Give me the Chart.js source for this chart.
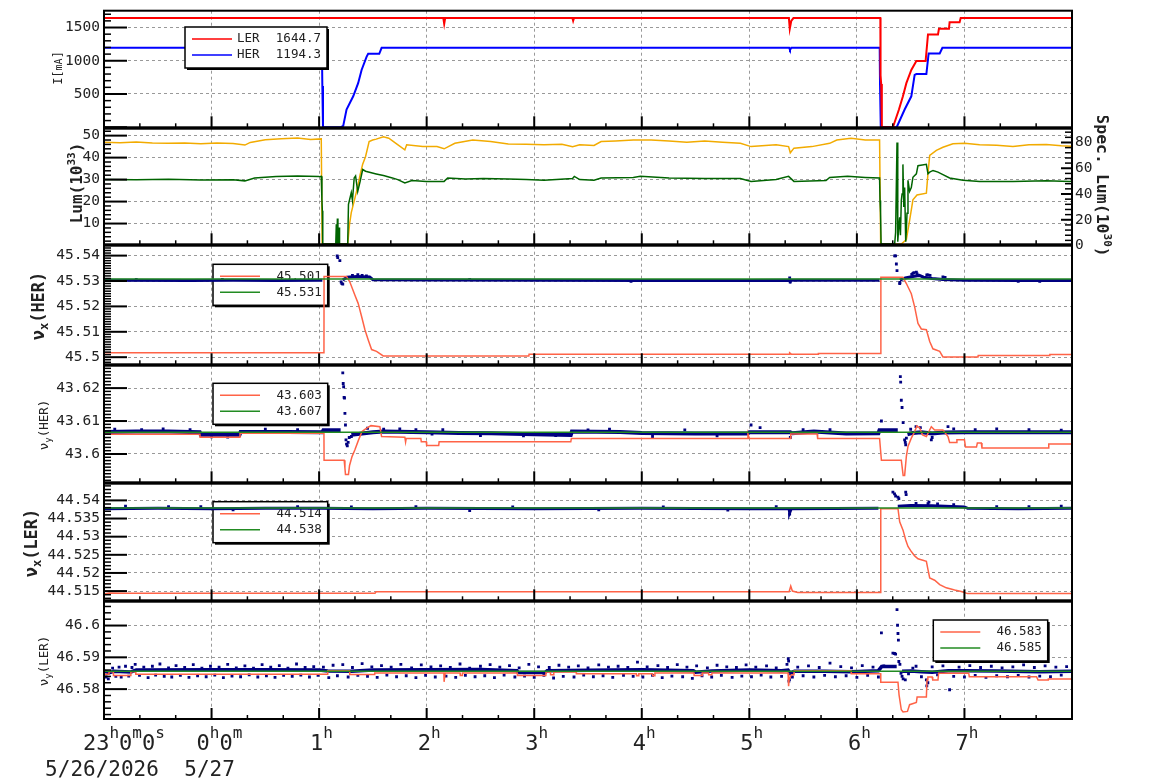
<!DOCTYPE html>
<html>
<head>
<meta charset="utf-8">
<script src="https://cdn.jsdelivr.net/npm/chart.js@4.4.1/dist/chart.umd.min.js"></script>
<style>
  body { margin: 0; background: #fff; width: 1154px; height: 782px; overflow: hidden; position: relative; }
  canvas { position: absolute; left: 0; }
</style>
</head>
<body>
<canvas id="p0"></canvas>
<canvas id="p1"></canvas>
<canvas id="p2"></canvas>
<canvas id="p3"></canvas>
<canvas id="p4"></canvas>
<canvas id="p5"></canvas>
<script>
// time axis: hours after 23:00 on 5/26
var HOURS = [0, 1, 2, 3, 4, 5, 6, 7, 8, 9];
var HOUR_LABELS = [['23', 'h', '0', 'm', '0', 's'], ['0', 'h', '0', 'm'], ['1', 'h'], ['2', 'h'], ['3', 'h'], ['4', 'h'], ['5', 'h'], ['6', 'h'], ['7', 'h']];
var DATE_LABELS = ['5/26/2026', '5/27'];

var I_TICKS = [500, 1000, 1500];
var I_LABELS = ['500', '1000', '1500'];
var LUM_TICKS = [10, 20, 30, 40, 50];
var LUM_LABELS = ['10', '20', '30', '40', '50'];
var SPEC_TICKS = [0, 20, 40, 60, 80];
var SPEC_LABELS = ['0', '20', '40', '60', '80'];
var NUX_HER_TICKS = [45.5, 45.51, 45.52, 45.53, 45.54];
var NUX_HER_LABELS = ['45.5', '45.51', '45.52', '45.53', '45.54'];
var NUY_HER_TICKS = [43.6, 43.61, 43.62];
var NUY_HER_LABELS = ['43.6', '43.61', '43.62'];
var NUX_LER_TICKS = [44.515, 44.52, 44.525, 44.53, 44.535, 44.54];
var NUX_LER_LABELS = ['44.515', '44.52', '44.525', '44.53', '44.535', '44.54'];
var NUY_LER_TICKS = [46.58, 46.59, 46.6];
var NUY_LER_LABELS = ['46.58', '46.59', '46.6'];

// beam currents [mA]
var LER_CURRENT = [[0,1642],[3.155,1642],[3.163,1555],[3.172,1642],[4.355,1642],[4.362,1600],[4.37,1642],[6.368,1642],[6.376,1480],[6.39,1600],[6.41,1642],[7.218,1642],[7.22,780],[7.226,650],[7.232,0],[7.335,0],[7.391,267],[7.428,465],[7.46,663],[7.506,861],[7.553,995],[7.639,995],[7.661,1396],[7.754,1396],[7.763,1480],[7.856,1480],[7.862,1580],[7.955,1580],[7.965,1642],[9,1642]];
var HER_CURRENT = [[0,1194],[2.026,1194],[2.03,620],[2.036,0],[2.203,0],[2.224,20],[2.255,267],[2.317,465],[2.363,663],[2.395,861],[2.441,1059],[2.456,1105],[2.559,1105],[2.57,1150],[2.581,1194],[6.37,1194],[6.378,1165],[6.39,1194],[7.212,1194],[7.215,650],[7.222,0],[7.37,0],[7.444,267],[7.506,465],[7.537,787],[7.553,800],[7.646,800],[7.667,1109],[7.77,1109],[7.795,1194],[9,1194]];
var LEGEND_CURRENT = [['LER', '1644.7'], ['HER', '1194.3']];

// luminosity [1e33] and specific luminosity [1e30]
var LUMINOSITY = [[0,47.0],[0.15,46.8],[0.3,47.1],[0.45,46.6],[0.6,46.5],[0.75,46.7],[0.9,46.3],[1.05,46.6],[1.2,46.4],[1.31,45.7],[1.36,46.9],[1.5,48.1],[1.65,48.6],[1.8,48.9],[1.92,48.2],[2.02,48.5],[2.028,0.7],[2.266,0.7],[2.283,9.7],[2.299,15],[2.326,20.2],[2.36,27],[2.382,32.3],[2.405,37],[2.432,40.5],[2.465,47.3],[2.498,48],[2.531,48.4],[2.598,49.5],[2.648,48.8],[2.714,46.5],[2.797,43.5],[2.814,45.8],[2.963,45],[3.096,45],[3.162,44],[3.262,46.5],[3.428,48],[3.594,47.3],[3.759,46.2],[3.925,46.1],[4.091,45.8],[4.257,46.1],[4.357,45],[4.423,45.8],[4.556,45.5],[4.622,47.3],[4.755,47.6],[4.921,48],[5.087,48],[5.253,47.6],[5.419,47],[5.585,47.6],[5.751,47],[5.917,46.5],[6.016,45],[6.249,45.8],[6.365,45],[6.381,42.2],[6.415,44.3],[6.581,45],[6.747,46.5],[6.813,48],[6.946,48.8],[7.078,48],[7.211,48],[7.221,0.7],[7.413,0.7],[7.46,2.7],[7.491,11.7],[7.521,20.8],[7.559,23],[7.646,23.8],[7.661,32.8],[7.677,41],[7.739,43.3],[7.8,44.7],[7.893,46.3],[8.002,46.5],[8.141,45.9],[8.3,45.6],[8.451,45.1],[8.6,45.8],[8.761,46],[8.9,45.4],[9,45.2]];
var SPEC_LUM = [[0,51.3],[0.3,51.0],[0.6,51.4],[0.9,50.8],[1.2,51.0],[1.31,50.2],[1.4,52.5],[1.6,53.5],[1.8,54],[2.0,53.5],[2.02,53.7],[2.026,36],[2.03,27],[2.034,1.2],[2.155,1.2],[2.16,16.5],[2.165,1.2],[2.17,21],[2.175,1.2],[2.185,14],[2.19,1.2],[2.266,1.2],[2.273,32],[2.299,41],[2.31,35],[2.326,52.5],[2.339,54],[2.359,42],[2.382,50],[2.405,59],[2.432,57.7],[2.531,55.6],[2.598,54.3],[2.681,52.5],[2.731,51.2],[2.797,48.6],[2.863,50.4],[2.996,49.8],[3.162,49.8],[3.195,52.4],[3.361,51.7],[3.527,52],[3.759,51.7],[3.925,51.2],[4.091,50.7],[4.357,52],[4.373,53.7],[4.423,51.2],[4.556,50.7],[4.622,52.4],[4.921,52.9],[4.987,53.7],[5.253,52.4],[5.585,52],[5.917,52],[6.016,49.8],[6.249,51.2],[6.365,53.7],[6.415,49.8],[6.713,50.4],[6.747,52.9],[6.913,53.7],[7.078,52.9],[7.211,52.4],[7.215,35],[7.22,25.6],[7.225,1.2],[7.351,1.2],[7.36,10],[7.373,80],[7.378,20],[7.382,3],[7.39,15],[7.398,22],[7.405,8],[7.413,35],[7.42,40],[7.428,63],[7.436,30],[7.444,45],[7.454,3],[7.46,12],[7.466,25],[7.475,50.6],[7.49,42],[7.506,45],[7.521,53],[7.553,55.7],[7.568,62],[7.646,63],[7.661,55.7],[7.677,57],[7.708,58.3],[7.754,57],[7.8,55],[7.862,52.4],[7.986,50.6],[8.141,49.8],[8.451,49.8],[8.761,50.3],[8.978,49.8],[9,50]];

// HER horizontal tune
var HER_NUX_SET = [[0,45.5017],[2.045,45.5017],[2.046,45.5318],[2.255,45.5318],[2.286,45.5296],[2.333,45.5244],[2.363,45.5212],[2.395,45.516],[2.426,45.5108],[2.456,45.5069],[2.488,45.503],[2.534,45.5023],[2.596,45.5005],[3.95,45.5005],[3.952,45.5012],[6.37,45.5012],[6.375,45.5017],[6.39,45.5012],[6.64,45.5012],[6.642,45.5015],[7.221,45.5015],[7.223,45.5315],[7.428,45.5315],[7.46,45.529],[7.506,45.525],[7.537,45.5198],[7.568,45.5133],[7.599,45.5111],[7.646,45.5108],[7.677,45.5062],[7.707,45.5033],[7.77,45.5023],[7.8,45.5001],[8.126,45.5001],[8.128,45.5007],[8.792,45.5007],[8.794,45.5011],[9,45.5011]];
var HER_NUX_REF = [[0,45.5308],[9,45.5308]];
var HER_NUX_MEAS = [[0,45.5303],[0.8,45.5302],[1.2,45.5303],[1.6,45.5302],[2.03,45.5303],[2.04,null],[2.22,45.5304],[2.26,45.5315],[2.35,45.5318],[2.47,45.5316],[2.5,45.5305],[3.0,45.5304],[4.0,45.5303],[5.0,45.5302],[6.0,45.5302],[6.37,45.5303],[6.38,45.5298],[6.39,45.5303],[7.21,45.5303],[7.22,null],[7.4,45.5303],[7.45,45.5312],[7.52,45.5318],[7.58,45.5322],[7.62,45.5315],[7.7,45.531],[7.8,45.5306],[8.0,45.5303],[8.5,45.5302],[9,45.5302]];
var HER_NUX_DOTS = [[2.168,45.5399],[2.173,45.5392],[2.193,45.538],[2.205,45.5296],[2.212,45.529],[2.22,45.5288],[2.31,45.5322],[2.36,45.5325],[2.4,45.5322],[2.44,45.532],[0.3,45.5306],[1.1,45.5306],[3.4,45.5306],[4.9,45.5299],[6.375,45.5312],[6.38,45.5296],[7.351,45.5399],[7.36,45.5399],[7.367,45.5367],[7.373,45.5341],[7.398,45.529],[7.4,45.5294],[7.51,45.5326],[7.521,45.533],[7.53,45.5333],[7.553,45.5335],[7.56,45.5328],[7.65,45.5324],[7.661,45.5324],[7.68,45.5322],[7.8,45.5316],[7.82,45.5314],[8.5,45.5299],[8.7,45.5299]];
var LEGEND_NUX_HER = ['45.501', '45.531'];

// HER vertical tune
var HER_NUY_SET = [[0,43.606],[0.892,43.606],[0.893,43.6051],[1.264,43.6051],[1.265,43.6063],[2.045,43.6063],[2.046,43.5981],[2.233,43.5981],[2.24,43.5957],[2.245,43.5938],[2.273,43.5938],[2.283,43.5965],[2.306,43.5992],[2.332,43.6012],[2.366,43.6042],[2.399,43.6068],[2.432,43.6076],[2.482,43.6086],[2.565,43.6083],[2.581,43.6053],[2.797,43.6051],[2.804,43.6036],[2.81,43.6047],[2.946,43.6047],[2.95,43.6037],[2.996,43.6037],[3.0,43.6026],[3.112,43.6026],[3.116,43.6037],[4.34,43.6037],[4.345,43.6047],[5.983,43.6047],[5.987,43.6061],[6.0,43.6047],[6.381,43.6047],[6.385,43.6061],[6.63,43.6061],[6.635,43.6047],[7.211,43.6047],[7.228,43.5981],[7.413,43.5981],[7.43,43.5935],[7.444,43.5935],[7.46,43.5993],[7.475,43.6023],[7.506,43.6048],[7.537,43.6068],[7.558,43.6085],[7.584,43.6079],[7.61,43.6058],[7.646,43.6053],[7.692,43.6083],[7.723,43.6073],[7.8,43.6073],[7.847,43.6053],[7.862,43.6035],[7.924,43.6035],[7.93,43.6043],[8.0,43.6043],[8.01,43.6021],[8.112,43.6021],[8.12,43.6033],[8.157,43.6033],[8.163,43.6018],[8.777,43.6018],[8.784,43.603],[9,43.603]];
var HER_NUY_REF = [[0,43.6066],[9,43.6066]];
var HER_NUY_MEAS = [[0,43.6067],[0.3,43.6068],[0.6,43.6068],[0.89,43.6066],[0.9,43.6058],[1.26,43.6058],[1.27,43.6067],[1.7,43.6067],[2.03,43.6066],[2.04,43.6072],[2.2,43.6072],[2.21,null],[2.3,43.6058],[2.4,43.6062],[2.5,43.6066],[2.6,43.6068],[3.0,43.6066],[3.3,43.6064],[3.6,43.6063],[4.0,43.606],[4.34,43.6058],[4.35,43.6068],[4.8,43.6067],[5.0,43.6064],[5.5,43.6062],[5.98,43.6062],[6.0,43.6066],[6.38,43.6066],[6.4,43.6063],[6.6,43.6068],[6.9,43.6062],[7.2,43.6063],[7.21,43.6072],[7.38,43.6072],[7.39,null],[7.47,43.606],[7.52,43.6064],[7.6,43.6066],[7.7,43.6062],[7.8,43.6065],[8.0,43.6066],[8.5,43.6066],[9,43.6066]];
var HER_NUY_DOTS = [[0.1,43.6075],[0.35,43.6074],[0.55,43.6076],[0.8,43.6074],[1.0,43.6052],[1.15,43.6051],[1.5,43.6075],[1.8,43.6074],[2.038,43.6103],[2.22,43.6246],[2.224,43.6214],[2.228,43.6204],[2.232,43.6172],[2.236,43.617],[2.24,43.6123],[2.245,43.6088],[2.25,43.6043],[2.255,43.603],[2.262,43.6025],[2.27,43.6035],[2.28,43.605],[2.3,43.6053],[2.33,43.606],[2.45,43.6078],[2.6,43.6075],[2.75,43.6076],[2.9,43.6074],[3.05,43.606],[3.15,43.6074],[3.5,43.6056],[3.9,43.6055],[4.2,43.6056],[4.5,43.6073],[4.7,43.6075],[5.1,43.6053],[5.4,43.6073],[5.7,43.6055],[6.016,43.6088],[6.1,43.608],[6.381,43.605],[6.5,43.6074],[6.75,43.6074],[7.228,43.61],[7.404,43.6235],[7.407,43.6218],[7.413,43.6163],[7.42,43.6141],[7.43,43.6095],[7.444,43.6043],[7.45,43.6035],[7.454,43.6028],[7.46,43.6048],[7.5,43.6075],[7.55,43.6083],[7.59,43.608],[7.692,43.6043],[7.7,43.605],[7.847,43.6083],[7.9,43.6076],[8.1,43.6074],[8.3,43.6076],[8.6,43.6074],[8.9,43.6072]];
var LEGEND_NUY_HER = ['43.603', '43.607'];

// LER horizontal tune
var LER_NUX_SET = [[0,44.5142],[0.05,44.5145],[0.2,44.5144],[2.52,44.5144],[2.53,44.5148],[6.37,44.5148],[6.385,44.5164],[6.4,44.515],[6.45,44.5146],[7.221,44.5146],[7.222,44.5377],[7.382,44.5377],[7.398,44.5341],[7.429,44.5318],[7.454,44.5291],[7.475,44.5273],[7.506,44.5259],[7.537,44.5247],[7.568,44.5239],[7.646,44.5232],[7.661,44.5209],[7.677,44.5186],[7.723,44.518],[7.77,44.5168],[7.831,44.5159],[7.909,44.5153],[7.97,44.5149],[8.03,44.5143],[9,44.5143]];
var LER_NUX_REF = [[0,44.5379],[9,44.5379]];
var LER_NUX_MEAS = [[0,44.5377],[0.5,44.5378],[1.0,44.5377],[1.5,44.5378],[2.0,44.5378],[2.5,44.5377],[3.0,44.5378],[4.0,44.5377],[5.0,44.5378],[6.0,44.5377],[6.37,44.5377],[6.375,44.5366],[6.39,44.5377],[7.2,44.5378],[7.22,null],[7.38,44.5384],[7.5,44.5386],[7.7,44.5385],[8.0,44.5382],[8.03,44.5378],[8.5,44.5377],[9,44.5378]];
var LER_NUX_DOTS = [[0.2,44.5384],[0.6,44.5383],[0.9,44.5383],[1.2,44.5374],[1.8,44.5383],[2.3,44.5382],[2.9,44.5383],[3.4,44.5372],[3.8,44.5382],[4.6,44.5374],[5.2,44.5382],[5.8,44.5373],[6.25,44.5383],[6.375,44.5362],[7.335,44.5423],[7.35,44.5418],[7.36,44.5412],[7.382,44.5409],[7.39,44.5405],[7.454,44.5423],[7.458,44.5416],[7.55,44.5392],[7.661,44.5391],[7.67,44.5395],[7.75,44.539],[7.9,44.5388],[8.3,44.5383],[8.6,44.5383],[8.9,44.5384]];
var LEGEND_NUX_LER = ['44.514', '44.538'];

// LER vertical tune
var LER_NUY_SET = [[0,46.5847],[0.046,46.5847],[0.047,46.5855],[0.087,46.5855],[0.088,46.5843],[0.248,46.5843],[0.25,46.5855],[0.294,46.5855],[0.296,46.5847],[2.075,46.5847],[2.08,46.5858],[2.283,46.5858],[2.285,46.5846],[2.515,46.5846],[2.517,46.5851],[3.16,46.5851],[3.162,46.5823],[3.17,46.5823],[3.172,46.5851],[3.31,46.5851],[3.312,46.5843],[3.33,46.5843],[3.332,46.5851],[3.842,46.5851],[3.844,46.5843],[4.108,46.5843],[4.11,46.5854],[4.15,46.5854],[4.152,46.5845],[4.18,46.5845],[4.182,46.5854],[4.39,46.5854],[4.392,46.5848],[4.95,46.5848],[4.952,46.5842],[4.97,46.5842],[4.972,46.5848],[5.1,46.5848],[5.102,46.5842],[5.12,46.5842],[5.122,46.5851],[5.485,46.5851],[5.487,46.5843],[5.56,46.5843],[5.562,46.5851],[5.62,46.5851],[5.622,46.5845],[5.651,46.5845],[5.653,46.5851],[6.36,46.5851],[6.365,46.5809],[6.37,46.583],[6.39,46.5845],[6.415,46.5845],[6.417,46.5858],[6.946,46.5858],[6.948,46.5848],[7.221,46.5848],[7.222,46.5822],[7.382,46.5822],[7.392,46.5782],[7.413,46.5735],[7.429,46.5728],[7.47,46.573],[7.49,46.5751],[7.553,46.5758],[7.56,46.5775],[7.646,46.5775],[7.652,46.5829],[7.66,46.5838],[7.7,46.5838],[7.705,46.5829],[7.754,46.5829],[7.76,46.585],[8.04,46.585],[8.045,46.5839],[8.67,46.5839],[8.684,46.5829],[8.777,46.5829],[8.78,46.5832],[9,46.5832]];
var LER_NUY_REF = [[0,46.5856],[9,46.5856]];
var LER_NUY_MEAS = [[0,46.5856],[0.05,46.5852],[0.09,46.5856],[0.25,46.5854],[0.3,46.586],[1.0,46.5861],[1.5,46.5861],[2.0,46.586],[2.08,46.5857],[2.3,46.5856],[2.5,46.586],[3.0,46.5861],[3.5,46.5862],[3.84,46.5858],[3.85,46.5852],[4.1,46.5852],[4.12,46.5858],[4.5,46.5859],[5.0,46.5861],[5.48,46.5858],[5.5,46.5853],[5.65,46.5857],[6.0,46.586],[6.3,46.5858],[6.36,46.586],[6.38,46.585],[6.42,46.5856],[6.7,46.5856],[6.95,46.5855],[7.2,46.5858],[7.23,46.5871],[7.37,46.5871],[7.39,null],[7.42,46.5856],[7.5,46.5857],[7.6,46.5855],[7.7,46.5853],[7.85,46.5858],[8.0,46.5858],[8.3,46.5857],[8.7,46.5855],[9,46.5856]];
var LER_NUY_DOTS = [[0.02,46.5838],[0.04,46.5832],[0.08,46.5866],[0.11,46.584],[0.14,46.5869],[0.16,46.5838],[0.2,46.5872],[0.23,46.5841],[0.26,46.5868],[0.29,46.5878],[0.33,46.5843],[0.37,46.5869],[0.41,46.5836],[0.45,46.5872],[0.48,46.5844],[0.52,46.5879],[0.56,46.584],[0.6,46.5867],[0.63,46.5838],[0.67,46.5874],[0.71,46.5843],[0.75,46.5868],[0.79,46.5837],[0.83,46.5877],[0.87,46.5842],[0.91,46.5866],[0.95,46.5839],[0.99,46.5872],[1.03,46.5844],[1.07,46.5869],[1.11,46.5836],[1.15,46.5878],[1.19,46.5841],[1.23,46.5867],[1.27,46.5839],[1.31,46.5873],[1.35,46.5845],[1.39,46.5866],[1.43,46.5838],[1.47,46.5877],[1.51,46.5842],[1.55,46.5869],[1.59,46.5837],[1.63,46.5874],[1.67,46.5843],[1.71,46.5866],[1.75,46.584],[1.79,46.5879],[1.83,46.5844],[1.87,46.5868],[1.91,46.5838],[1.95,46.5871],[1.99,46.5843],[2.04,46.5869],[2.09,46.5836],[2.13,46.5875],[2.17,46.5842],[2.22,46.5877],[2.27,46.5838],[2.31,46.5868],[2.36,46.5843],[2.4,46.588],[2.45,46.584],[2.49,46.587],[2.54,46.5837],[2.58,46.5874],[2.63,46.5844],[2.67,46.5869],[2.72,46.5839],[2.76,46.5878],[2.81,46.5842],[2.86,46.5867],[2.9,46.5836],[2.95,46.5876],[2.99,46.5843],[3.04,46.587],[3.08,46.5838],[3.13,46.5873],[3.18,46.5841],[3.22,46.5868],[3.27,46.5837],[3.31,46.5879],[3.36,46.5843],[3.4,46.5866],[3.45,46.5839],[3.5,46.5872],[3.54,46.5842],[3.59,46.5877],[3.63,46.5836],[3.68,46.5869],[3.72,46.5844],[3.77,46.5874],[3.82,46.5838],[3.86,46.5867],[3.91,46.5841],[3.95,46.5878],[4.0,46.5837],[4.04,46.587],[4.09,46.5843],[4.14,46.5868],[4.18,46.5835],[4.23,46.5875],[4.27,46.584],[4.32,46.5869],[4.37,46.5838],[4.41,46.5873],[4.46,46.5844],[4.5,46.5867],[4.55,46.5839],[4.6,46.5876],[4.64,46.5842],[4.69,46.5869],[4.73,46.5837],[4.78,46.5872],[4.83,46.5843],[4.87,46.5868],[4.92,46.584],[4.96,46.5885],[5.01,46.5838],[5.05,46.587],[5.1,46.5843],[5.15,46.5874],[5.19,46.5836],[5.24,46.5868],[5.28,46.5841],[5.33,46.5877],[5.38,46.5839],[5.42,46.5869],[5.47,46.5834],[5.51,46.5873],[5.56,46.5842],[5.61,46.5867],[5.65,46.5838],[5.7,46.5875],[5.74,46.5843],[5.79,46.587],[5.84,46.5837],[5.88,46.5868],[5.93,46.5841],[5.97,46.5876],[6.02,46.5839],[6.06,46.5869],[6.11,46.5844],[6.16,46.5873],[6.2,46.5838],[6.25,46.5867],[6.3,46.584],[6.35,46.5878],[6.362,46.5896],[6.365,46.5888],[6.368,46.5825],[6.372,46.583],[6.4,46.5838],[6.45,46.5869],[6.5,46.5842],[6.55,46.5873],[6.6,46.5838],[6.65,46.5868],[6.7,46.5843],[6.75,46.5882],[6.8,46.5839],[6.85,46.5871],[6.9,46.5842],[6.95,46.5867],[7.0,46.5837],[7.05,46.5874],[7.1,46.5843],[7.15,46.5869],[7.2,46.5838],[7.228,46.5977],[7.25,46.5873],[7.3,46.5871],[7.335,46.5913],[7.35,46.5912],[7.36,46.591],[7.373,46.605],[7.378,46.6001],[7.382,46.5975],[7.386,46.5954],[7.39,46.5887],[7.4,46.5878],[7.41,46.585],[7.42,46.584],[7.43,46.5832],[7.45,46.5829],[7.48,46.5848],[7.52,46.5866],[7.55,46.5872],[7.6,46.5839],[7.646,46.5829],[7.65,46.581],[7.66,46.582],[7.7,46.587],[7.75,46.5845],[7.8,46.5873],[7.862,46.5798],[7.9,46.584],[7.95,46.5869],[8.0,46.5838],[8.05,46.5874],[8.1,46.5843],[8.15,46.5868],[8.2,46.5837],[8.25,46.5872],[8.3,46.5842],[8.35,46.5867],[8.4,46.5839],[8.45,46.587],[8.5,46.5843],[8.55,46.5876],[8.6,46.5838],[8.65,46.5868],[8.7,46.5841],[8.75,46.5873],[8.8,46.5839],[8.85,46.5869],[8.9,46.5844],[8.95,46.5871]];
var LEGEND_NUY_LER = ['46.583', '46.585'];

var MONO = "'DejaVu Sans Mono', monospace";
var INK = '#222';
var PANEL_TOP = [10, 128, 245, 365, 483, 601];
var PANEL_BOTTOM = [128, 245, 365, 483, 601, 719];
var PAD = 12;

Chart.defaults.font.family = MONO;

function pts(a) {
    return a.map(function (p) { return { x: p[0], y: p[1] }; });
}

function line(data, color, width, order, axis) {
    return { data: pts(data), borderColor: color, borderWidth: width, pointRadius: 0,
             yAxisID: axis || 'y', order: order, spanGaps: false };
}

function dots(data) {
    return { data: pts(data), showLine: false, pointStyle: 'rect', pointRadius: 2,
             pointBackgroundColor: '#000080', pointBorderWidth: 0, order: 5 };
}

function yScale(min, max, ticks, labels, pos) {
    return {
        type: 'linear', position: pos || 'left', min: min, max: max, bounds: 'data',
        afterBuildTicks: function (s) { s.ticks = ticks.map(function (v) { return { value: v }; }); },
        afterFit: function (s) { s.width = pos === 'right' ? 82 : 104; },
        ticks: { callback: function (v, i) { return labels[i]; }, color: INK, autoSkip: false,
                 font: { family: MONO, size: 14.5 }, padding: pos === 'right' ? 3 : 4 },
        grid: { color: '#999', lineWidth: 1, drawTicks: false, drawOnChartArea: pos !== 'right' },
        border: { display: false, dash: [3, 3] }
    };
}

function xScale(h) {
    return {
        type: 'linear', min: 0, max: 9, bounds: 'data',
        afterBuildTicks: function (s) { s.ticks = HOURS.map(function (v) { return { value: v }; }); },
        afterFit: function (s) { s.height = h; },
        ticks: { display: false },
        grid: { color: '#999', lineWidth: 1, drawTicks: false },
        border: { display: false, dash: [3, 3] }
    };
}

// text with sub/superscripts: parts are [text, size, bold, dy]
function richText(ctx, parts, x, y, rot, centered) {
    ctx.save();
    ctx.translate(x, y);
    ctx.rotate(rot);
    var widths = [], total = 0;
    parts.forEach(function (p) {
        ctx.font = (p[2] ? 'bold ' : '') + p[1] + 'px ' + MONO;
        var w = ctx.measureText(p[0]).width;
        widths.push(w);
        total += w;
    });
    var cx = centered ? -total / 2 : 0;
    var base = centered ? parts[0][1] * 0.36 : 0;
    ctx.fillStyle = INK;
    ctx.textAlign = 'left';
    ctx.textBaseline = 'alphabetic';
    parts.forEach(function (p, i) {
        ctx.font = (p[2] ? 'bold ' : '') + p[1] + 'px ' + MONO;
        ctx.fillText(p[0], cx, base + p[3]);
        cx += widths[i];
    });
    ctx.restore();
}

function drawLegend(ctx, L, off) {
    var y0 = L.y - off;
    ctx.save();
    ctx.fillStyle = '#000';
    ctx.fillRect(L.x + 2, y0 + 2, L.w, 41);
    ctx.fillStyle = '#fff';
    ctx.fillRect(L.x, y0, L.w, 41);
    ctx.strokeStyle = '#000';
    ctx.lineWidth = 1.5;
    ctx.strokeRect(L.x, y0, L.w, 41);
    ctx.font = '12.5px ' + MONO;
    ctx.textBaseline = 'middle';
    L.rows.forEach(function (r, i) {
        var ry = y0 + (i ? 28 : 12);
        ctx.strokeStyle = r[0];
        ctx.lineWidth = 1.5;
        ctx.beginPath();
        ctx.moveTo(L.x + 7, ry);
        ctx.lineTo(L.x + 47, ry);
        ctx.stroke();
        ctx.fillStyle = INK;
        if (r[1]) { ctx.textAlign = 'left'; ctx.fillText(r[1], L.x + 52, ry); }
        ctx.textAlign = 'right';
        ctx.fillText(r[2], L.x + L.w - 6, ry);
    });
    ctx.restore();
}

function inTicks(ctx, scale, x0, dir, minor, major, lenMaj, lenMin) {
    var n0 = Math.ceil(scale.min / minor - 1e-6), n1 = Math.floor(scale.max / minor + 1e-6);
    for (var n = n0; n <= n1; n++) {
        var v = n * minor;
        var q = v / major;
        var isMaj = Math.abs(q - Math.round(q)) < 1e-4;
        var y = scale.getPixelForValue(v);
        ctx.lineWidth = isMaj ? 2 : 1.5;
        ctx.beginPath();
        ctx.moveTo(x0, y);
        ctx.lineTo(x0 + dir * (isMaj ? lenMaj : lenMin), y);
        ctx.stroke();
    }
}

var framePlugin = {
    id: 'frame',
    beforeDatasetsDraw: function (chart) {
        var o = chart.options.plugins.frame;
        if (o.legend && !o.legend.over) drawLegend(chart.ctx, o.legend, o.offset);
    },
    afterDatasetsDraw: function (chart) {
        var o = chart.options.plugins.frame;
        if (o.legend && o.legend.over) drawLegend(chart.ctx, o.legend, o.offset);
    },
    afterDraw: function (chart) {
        var o = chart.options.plugins.frame, ctx = chart.ctx, a = chart.chartArea;
        ctx.save();
        ctx.strokeStyle = '#000';
        inTicks(ctx, chart.scales.y, a.left, 1, o.minor, o.major, 23, 7);
        if (chart.scales.y2) inTicks(ctx, chart.scales.y2, a.right, -1, 4, 20, 11, 7);
        var xs = chart.scales.x;
        for (var n = 1; n < 27; n++) {
            var px = xs.getPixelForValue(n / 3), maj = n % 3 === 0;
            ctx.lineWidth = maj ? 2 : 1.5;
            ctx.beginPath();
            ctx.moveTo(px, a.bottom);
            ctx.lineTo(px, a.bottom - (maj ? 11 : 4));
            ctx.stroke();
        }
        ctx.lineWidth = 2;
        ctx.strokeRect(a.left, a.top, a.right - a.left, a.bottom - a.top);
        ctx.restore();
        (o.titles || []).forEach(function (t) {
            richText(ctx, t.parts, t.x, t.y - o.offset, t.rot, true);
        });
        if (o.timeLabels) {
            var shift = [-21, -15, -9, -9, -9, -9, -9, -9, -9];
            HOUR_LABELS.forEach(function (lab, i) {
                var parts = lab.map(function (s, k) { return k % 2 ? [s, 16, 0, -12] : [s, 22, 0, 0]; });
                richText(ctx, parts, xs.getPixelForValue(HOURS[i]) + shift[i], 750 - o.offset, 0, false);
            });
            ctx.save();
            ctx.fillStyle = INK;
            ctx.font = '21px ' + MONO;
            ctx.textAlign = 'center';
            ctx.textBaseline = 'alphabetic';
            DATE_LABELS.forEach(function (d, i) {
                ctx.fillText(d, xs.getPixelForValue(HOURS[i]) - 2, 776 - o.offset);
            });
            ctx.restore();
        }
    }
};

function makePanel(i, datasets, scales, frame, hasRight) {
    var top = PANEL_TOP[i] - PAD;
    var last = i === 5;
    var h = last ? 782 - top : PANEL_BOTTOM[i] - PANEL_TOP[i] + 2 * PAD;
    var cv = document.getElementById('p' + i);
    cv.width = 1154;
    cv.height = h;
    cv.style.top = top + 'px';
    scales.x = xScale(last ? 63 : 0);
    frame.offset = top;
    return new Chart(cv, {
        type: 'line',
        data: { datasets: datasets },
        options: {
            responsive: false,
            animation: false,
            events: [],
            layout: { padding: { top: PAD, bottom: last ? 0 : PAD, left: 0, right: hasRight ? 0 : 82 } },
            scales: scales,
            plugins: { legend: { display: false }, tooltip: { enabled: false }, frame: frame }
        },
        plugins: [framePlugin]
    });
}

var RED = '#ff0000', BLUE = '#0000ff', TOMATO = '#ff6347', GREEN = '#228b22';

// 1: beam currents
makePanel(0,
    [line(HER_CURRENT, BLUE, 2, 2), line(LER_CURRENT, RED, 2, 1)],
    { y: yScale(-1, 1753, I_TICKS, I_LABELS) },
    { minor: 100, major: 500,
      legend: { x: 185, y: 27, w: 142, over: true,
                rows: [[RED, LEGEND_CURRENT[0][0], LEGEND_CURRENT[0][1]], [BLUE, LEGEND_CURRENT[1][0], LEGEND_CURRENT[1][1]]] },
      titles: [{ x: 57.5, y: 68, rot: -Math.PI / 2, parts: [['I[', 12, 0, 0], ['mA', 10, 0, 0], [']', 12, 0, 0]] }] },
    false);

// 2: luminosity
makePanel(1,
    [line(LUMINOSITY, '#f2ab00', 1.5, 2), line(SPEC_LUM, '#006400', 1.5, 1, 'y2')],
    { y: yScale(0.56, 53.15, LUM_TICKS, LUM_LABELS),
      y2: yScale(0.96, 90.7, SPEC_TICKS, SPEC_LABELS, 'right') },
    { minor: 2, major: 10,
      titles: [{ x: 76, y: 183, rot: -Math.PI / 2, parts: [['Lum(10', 16, 1, 0], ['33', 11, 1, -7], [')', 16, 1, 0]] },
               { x: 1103, y: 185.5, rot: Math.PI / 2, parts: [['Spec. Lum(10', 16.5, 1, 0], ['30', 11, 1, -7], [')', 16.5, 1, 0]] }] },
    true);

// 3: HER horizontal tune
makePanel(2,
    [dots(HER_NUX_DOTS), line(HER_NUX_MEAS, '#000080', 3, 4), line(HER_NUX_SET, TOMATO, 1.5, 2), line(HER_NUX_REF, GREEN, 1.5, 1)],
    { y: yScale(45.4972, 45.5439, NUX_HER_TICKS, NUX_HER_LABELS) },
    { minor: 0.001, major: 0.01,
      legend: { x: 213, y: 264.3, w: 114.7, over: false, rows: [[TOMATO, '', LEGEND_NUX_HER[0]], [GREEN, '', LEGEND_NUX_HER[1]]] },
      titles: [{ x: 38, y: 306, rot: -Math.PI / 2, parts: [['ν', 17, 1, 0], ['x', 12, 1, 4], ['(HER)', 17, 1, 0]] }] },
    false);

// 4: HER vertical tune
makePanel(3,
    [dots(HER_NUY_DOTS), line(HER_NUY_MEAS, '#000080', 4, 4), line(HER_NUY_SET, TOMATO, 1.5, 2), line(HER_NUY_REF, GREEN, 1.5, 1)],
    { y: yScale(43.5914, 43.6268, NUY_HER_TICKS, NUY_HER_LABELS) },
    { minor: 0.001, major: 0.01,
      legend: { x: 213, y: 383.3, w: 114.7, over: true, rows: [[TOMATO, '', LEGEND_NUY_HER[0]], [GREEN, '', LEGEND_NUY_HER[1]]] },
      titles: [{ x: 43, y: 425, rot: -Math.PI / 2, parts: [['ν', 12.5, 0, 0], ['y', 9, 0, 3], ['(HER)', 12.5, 0, 0]] }] },
    false);

// 5: LER horizontal tune
makePanel(4,
    [dots(LER_NUX_DOTS), line(LER_NUX_MEAS, '#000080', 3, 4), line(LER_NUX_SET, TOMATO, 1.5, 2), line(LER_NUX_REF, GREEN, 1.5, 1)],
    { y: yScale(44.51246, 44.5446, NUX_LER_TICKS, NUX_LER_LABELS) },
    { minor: 0.001, major: 0.005,
      legend: { x: 213, y: 501.7, w: 114.7, over: false, rows: [[TOMATO, '', LEGEND_NUX_LER[0]], [GREEN, '', LEGEND_NUX_LER[1]]] },
      titles: [{ x: 31, y: 543, rot: -Math.PI / 2, parts: [['ν', 17, 1, 0], ['x', 12, 1, 4], ['(LER)', 17, 1, 0]] }] },
    false);

// 6: LER vertical tune
makePanel(5,
    [dots(LER_NUY_DOTS), line(LER_NUY_MEAS, '#000080', 3.5, 4), line(LER_NUY_SET, TOMATO, 1.5, 2), line(LER_NUY_REF, GREEN, 1.5, 1)],
    { y: yScale(46.5706, 46.6075, NUY_LER_TICKS, NUY_LER_LABELS) },
    { minor: 0.002, major: 0.01, timeLabels: true,
      legend: { x: 933.3, y: 620, w: 114.4, over: true, rows: [[TOMATO, '', LEGEND_NUY_LER[0]], [GREEN, '', LEGEND_NUY_LER[1]]] },
      titles: [{ x: 43, y: 661, rot: -Math.PI / 2, parts: [['ν', 12.5, 0, 0], ['y', 9, 0, 3], ['(LER)', 12.5, 0, 0]] }] },
    false);
</script>
</body>
</html>
